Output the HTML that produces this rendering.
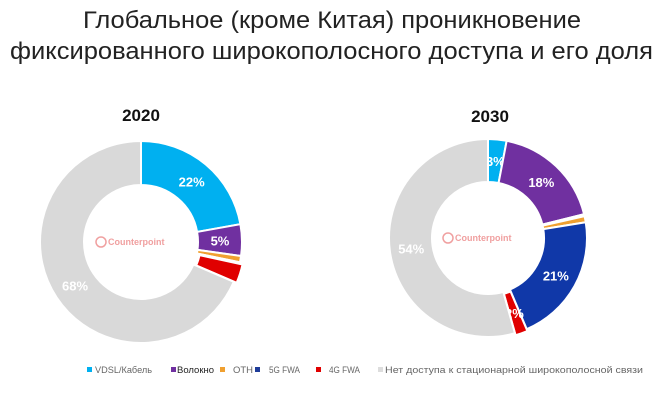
<!DOCTYPE html>
<html><head><meta charset="utf-8"><style>
body{margin:0;background:#fff;width:664px;height:405px;overflow:hidden;font-family:"Liberation Sans","DejaVu Sans",sans-serif}
</style></head><body>
<svg id="s" width="664" height="405" xmlns="http://www.w3.org/2000/svg">
<text x="83" y="28" font-size="24" fill="#222" textLength="498" lengthAdjust="spacingAndGlyphs">Глобальное (кроме Китая) проникновение</text>
<text x="10" y="59" font-size="24" fill="#222" textLength="643" lengthAdjust="spacingAndGlyphs">фиксированного широкополосного доступа и его доля</text>
<text x="141" y="121" font-size="17" font-weight="bold" text-anchor="middle" fill="#111">2020</text>
<text x="490" y="122" font-size="17" font-weight="bold" text-anchor="middle" fill="#111">2030</text>
<g id="g1"></g><g id="g2"></g>
<g font-size="9" fill="#666">
<rect x="87" y="367" width="5" height="5" fill="#00b0f0"/><text x="95" y="373" textLength="57" lengthAdjust="spacingAndGlyphs">VDSL/Кабель</text>
<rect x="171" y="367" width="5" height="5" fill="#7030a0"/><text x="177" y="373" fill="#222" textLength="37" lengthAdjust="spacingAndGlyphs">Волокно</text>
<rect x="220" y="367" width="5" height="5" fill="#f0a030"/><text x="233" y="373" textLength="20" lengthAdjust="spacingAndGlyphs">OTH</text>
<rect x="255" y="367" width="5" height="5" fill="#1f3c99"/><text x="269" y="373" textLength="31" lengthAdjust="spacingAndGlyphs">5G FWA</text>
<rect x="316" y="367" width="5" height="5" fill="#e00000"/><text x="329" y="373" textLength="31" lengthAdjust="spacingAndGlyphs">4G FWA</text>
<rect x="378" y="367" width="5" height="5" fill="#ddd"/><text x="385" y="373" textLength="258" lengthAdjust="spacingAndGlyphs">Нет доступа к стационарной широкополосной связи</text>
</g>
</svg>
<script>
function donut(id,cx,cy,R,r,data){
 var g=document.getElementById(id),tot=0;data.forEach(d=>tot+=d[0]);
 var a=0,h='';
 data.forEach(function(d){
  var a0=a/tot*2*Math.PI,a1=(a+d[0])/tot*2*Math.PI;a+=d[0];
  var off=d[3]||0,m=(a0+a1)/2,ox=off*Math.sin(m),oy=-off*Math.cos(m);
  function p(rr,t){return [(cx+ox+rr*Math.sin(t)).toFixed(2),(cy+oy-rr*Math.cos(t)).toFixed(2)];}
  var L=(a1-a0)>Math.PI?1:0,P1=p(R,a0),P2=p(R,a1),P3=p(r,a1),P4=p(r,a0);
  h+='<path d="M'+P1+'A'+R+','+R+' 0 '+L+' 1 '+P2+'L'+P3+'A'+r+','+r+' 0 '+L+' 0 '+P4+'Z" fill="'+d[1]+'" stroke="#fff" stroke-width="2"/>';
  if(d[2]){var q=p((R+r)/2,m);h+='<text x="'+q[0]+'" y="'+(+q[1]+5)+'" font-size="13" font-weight="bold" fill="#fff" text-anchor="middle">'+d[2]+'</text>';}
 });
 h+='<circle cx="'+(cx-40)+'" cy="'+cy+'" r="5" fill="none" stroke="#f0a0a0" stroke-width="1.5"/><text x="'+(cx-33)+'" y="'+(cy+3)+'" font-size="9" font-weight="bold" fill="#f0a0a0">Counterpoint</text>';
 g.innerHTML=h;
}
donut('g1',141,242,101,57,[[22,'#00b0f0','22%'],[5,'#7030a0','5%'],[1,'#f0a030',''],[0.2,'#1f3c99',''],[3,'#e00000','',3],[68,'#d9d9d9','68%']]);
donut('g2',488,238,99,56,[[3,'#00b0f0','3%'],[18,'#7030a0','18%'],[0.3,'#111',''],[1,'#f0a030',''],[21,'#1038a8','21%'],[2,'#e00000','2%',2],[54,'#d9d9d9','54%']]);
</script>
</body></html>
